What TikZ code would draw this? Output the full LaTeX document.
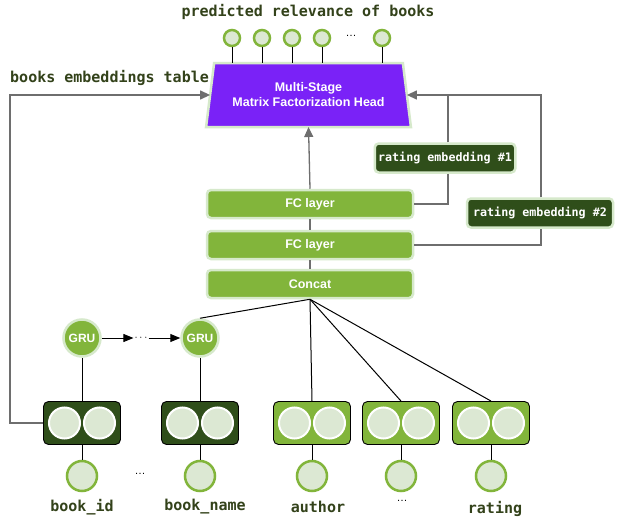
\documentclass[tikz,border=0pt]{standalone}
\usepackage{fontspec}
\setmainfont{Liberation Sans}
\newfontfamily\monofont{DejaVu Sans Mono}
\usetikzlibrary{shapes.geometric,arrows.meta}
\definecolor{olive}{HTML}{33421A}
\definecolor{purp}{HTML}{7A22F7}
\definecolor{dgreen}{HTML}{2F4E1A}
\definecolor{mgreen}{HTML}{82B53B}
\definecolor{glow}{HTML}{D6E9CB}
\definecolor{pale}{HTML}{DCE8D3}
\definecolor{gline}{HTML}{6E6E6E}
\tikzset{
  lbl/.style={font=\monofont\bfseries\fontsize{15}{15}\selectfont, text=olive, inner sep=0pt},
  fcbox/.style={rectangle, rounded corners=4pt, fill=mgreen, draw=glow, line width=2.5pt,
    minimum width=206pt, minimum height=28pt, text=white, font=\bfseries\fontsize{12.5}{12.5}\selectfont},
  rembox/.style={rectangle, rounded corners=4pt, fill=dgreen, draw=glow, line width=2.5pt,
    minimum height=29pt, text=white, font=\monofont\bfseries\fontsize{11.7}{11.7}\selectfont},
  gru/.style={circle, fill=mgreen, draw=glow, line width=2.5pt, minimum size=37pt, inner sep=0pt,
    text=white, font=\bfseries\fontsize{12}{12}\selectfont},
  embd/.style={rectangle, rounded corners=5pt, fill=dgreen, draw=black, line width=0.9pt,
    minimum width=77pt, minimum height=43pt},
  embl/.style={embd, fill=mgreen},
  innerc/.style={circle, fill=pale, draw=white, line width=2pt, minimum size=31pt, inner sep=0pt},
  inp/.style={circle, fill=pale, draw=mgreen, line width=2.5pt, minimum size=30pt, inner sep=0pt},
  outc/.style={circle, fill=pale, draw=mgreen, line width=2.5pt, minimum size=16pt, inner sep=0pt},
  gl/.style={draw=gline, line width=1.3pt},
  bl/.style={draw=black, line width=1pt},
  gtip/.style={-{Triangle[length=10pt,width=9pt]}},
  btip/.style={-{Triangle[length=10pt,width=8pt]}},
  dots/.style={font=\fontsize{11}{11}\selectfont, text=black, inner sep=1pt}
}
\begin{document}
\begin{tikzpicture}[x=1pt,y=-1pt]
\useasboundingbox[fill=white] (0,0) rectangle (625,522);

% title and outputs
\node[lbl] (title) at (308,12) {predicted relevance of books};
\node[outc] (o1) at (232,38) {};
\node[outc] (o2) at (262,38) {};
\node[outc] (o3) at (292,38) {};
\node[outc] (o4) at (322,38) {};
\node[dots] (odots) at (351,36) {\ldots};
\node[outc] (o5) at (382,38) {};

% head
\node[trapezium, trapezium left angle=77.6, trapezium right angle=77.6, trapezium stretches=true,
  minimum width=205pt, minimum height=64pt, fill=purp, draw=glow, line width=2.5pt, outer sep=0pt,
  text=white, align=center, font=\bfseries\fontsize{12.5}{15}\selectfont] (head) at (308.5,95)
  {Multi-Stage\\Matrix Factorization Head};

\node[lbl, anchor=west] (tabl) at (10,78) {books embeddings table};

% rating embeddings
\node[rembox, minimum width=140pt] (r1) at (445,158) {rating embedding \#1};
\node[rembox, minimum width=146pt] (r2) at (540,213) {rating embedding \#2};

% fc stack
\node[fcbox] (fc1) at (310,204) {FC layer};
\node[fcbox] (fc2) at (310,245) {FC layer};
\node[fcbox] (concat) at (310,284) {Concat};

% GRUs
\node[gru] (g1) at (82,338) {GRU};
\node[gru] (g2) at (200,338) {GRU};
\node[dots] (gdots) at (141,338) {$\cdots$};

% embedding boxes
\node[embd] (e1) at (82,423) {};
\node[embd] (e2) at (200,423) {};
\node[embl] (e3) at (312,423) {};
\node[embl] (e4) at (401,423) {};
\node[embl] (e5) at (491,423) {};
\foreach \e in {e1,e2,e3,e4,e5}{
  \node[innerc] (\e a) at ([xshift=-17.5pt]\e.center) {};
  \node[innerc] (\e b) at ([xshift=17.5pt]\e.center) {};
}

% inputs
\node[inp] (i1) at (82,476) {};
\node[inp] (i2) at (200,476) {};
\node[inp] (i3) at (312,476) {};
\node[inp] (i4) at (401,476) {};
\node[inp] (i5) at (491,476) {};
\node[dots] (idots) at (140,474) {\ldots};

\node[lbl] (l1) at (82,507) {book\_id};
\node[lbl] (l2) at (205,507) {book\_name};
\node[lbl] (l3) at (318,507) {author};
\node[dots] (l4) at (402,501) {\ldots};
\node[lbl] (l5) at (495,509) {rating};

% connectors: outputs
\foreach \o in {o1,o2,o3,o4,o5}{
  \draw[bl] (\o.south) -- (\o |- head.north);
}

% gray connectors
\draw[gl,gtip] (fc1.north) -- (head.south);
\draw[gl] (fc2.north) -- (fc1.south);
\draw[gl] (concat.north) -- (fc2.south);
\draw[gl,gtip] (e1.west) -- ++(-33,0) |- (head.west);
\draw[gl,gtip] ([xshift=1pt]r2.north) |- (head.east);
\draw[gl] ([xshift=3pt]r1.north) -- ([xshift=3pt]r1.north |- head.east);
\draw[gl] ([xshift=3pt]r1.south) |- (fc1.east);
\draw[gl] ([xshift=1pt]r2.south) |- (fc2.east);

% black connectors
\draw[bl] (concat.south) -- (g2.north);
\draw[bl] (concat.south) -- (e3.north);
\draw[bl] (concat.south) -- (e4.north);
\draw[bl] (concat.south) -- (e5.north);
\draw[bl,btip] (g1.east) -- (gdots.west);
\draw[bl,btip] (gdots.east) -- (g2.west);
\draw[bl] (g1.south) -- (e1.north);
\draw[bl] (g2.south) -- (e2.north);
\foreach \k in {1,...,5}{
  \draw[bl] (e\k.south) -- (i\k.north);
}
\end{tikzpicture}
\end{document}
